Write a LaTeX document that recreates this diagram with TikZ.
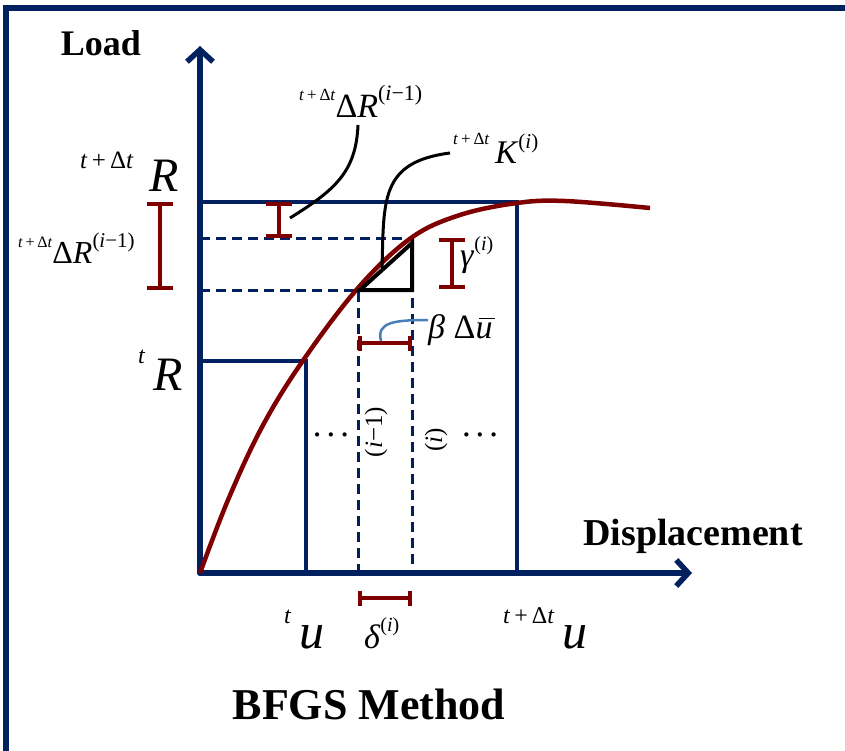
\documentclass[tikz,border=0pt]{standalone}
\usepackage{fontspec}
\setmainfont{Liberation Serif}
\usetikzlibrary{arrows.meta}
\definecolor{navy}{HTML}{002060}
\definecolor{darkred}{HTML}{7F0000}
\definecolor{leadblue}{HTML}{4A7EBB}
\newcommand{\fs}[1]{\fontsize{#1}{#1}\selectfont}
\newcommand{\pre}[3]{\raisebox{#2}{\fs{#1}#3}}
\newcommand{\tdt}{\textit{t}\,+\,Δ\textit{t}}
\newcommand{\threedots}{·\kern5pt·\kern5pt·}
\newcommand{\ubar}{\rlap{\kern0.1em\rule[0.56em]{0.48em}{1.3pt}}\textit{u}}

\begin{document}
\begin{tikzpicture}[x=1pt,y=-1pt,
 frame/.style={draw=navy,line width=6pt},
 axis/.style={draw=navy,line width=5.5pt,line cap=round,-{Straight Barb[length=12pt,width=26pt]}},
 box/.style={draw=navy,line width=3.5pt},
 dashln/.style={draw=navy,line width=3pt,dash pattern=on 10pt off 6pt},
 curve/.style={draw=darkred,line width=4.5pt},
 brk/.style={draw=darkred,line width=4pt,{Bar[width=26pt]}-{Bar[width=26pt]}},
 brks/.style={draw=darkred,line width=4pt,{Bar[width=15pt]}-{Bar[width=15pt]}},
 lead/.style={draw=black,line width=3pt},
 tri/.style={draw=black,line width=4pt,line join=miter},
 lbl/.style={inner sep=0pt,anchor=base west},
 ttl/.style={inner sep=0pt,font=\bfseries}]
 \useasboundingbox (0,0) rectangle (845,750);
 % frame and axes
 \draw[frame] (6,753) -- (6,7.5) -- (848,7.5);
 \coordinate (O) at (200,573);
 \coordinate (ytip) at (200,46);
 \coordinate (xtip) at (692,573);
 \draw[axis] (O) -- (ytip);
 \draw[axis] (O) -- (xtip);
 \node[ttl,font=\bfseries\fs{36}] (load) at (101,43) {Load};
 \node[ttl,font=\bfseries\fs{38}] (disp) at (693,536) {Displacement};
 \node[ttl,font=\bfseries\fs{44}] (title) at (369,704) {BFGS Method};
 % load levels and iterations
 \draw[box] (200,202) -- (517,202) -- (517,573);
 \draw[box] (200,361) -- (306,361) -- (306,573);
 \draw[dashln] (200,238) -- (412,238) -- (412,573);
 \draw[dashln] (200,290) -- (358,290) -- (358,573);
 \draw[curve] plot[smooth,tension=0.6] coordinates {(200,573) (228,500) (262,427) (302,362) (358,288) (411,238) (460,215) (517,203) (565,201) (650,208)};
 \draw[tri] (360,290) -- (412,290) -- (412,243) -- cycle;
 % brackets
 \draw[brk] (160,202) -- (160,290);
 \draw[brk] (279,202) -- (279,238);
 \draw[brk] (452,238) -- (452,289);
 \draw[brks] (358,343) -- (412,343);
 \draw[brks] (358,598) -- (412,598);
 % labels
 \node[lbl,font=\fs{48}] (Rnew) at (80,191) {\pre{25}{0.47em}{\tdt}\,\,\textit{R}};
 \node[lbl,font=\fs{48}] (Rold) at (138,390) {\pre{24}{0.55em}{\textit{t}}\,\textit{R}};
 \node[lbl,font=\fs{32}] (dRleft) at (18,263) {\pre{16}{0.5em}{\tdt}Δ\textit{R}\pre{21}{0.5em}{(\textit{i}−1)}};
 \node[lbl,font=\fs{34}] (dRtop) at (299,117) {\pre{17}{0.5em}{\tdt}Δ\textit{R}\pre{22}{0.5em}{(\textit{i}−1)}};
 \node[lbl,font=\fs{33}] (Klbl) at (453,163) {\pre{17}{0.55em}{\tdt}\,\textit{K}\pre{21}{0.45em}{(\textit{i})}};
 \node[lbl,font=\fs{34}] (gam) at (460,266) {\textit{γ}\pre{20}{0.45em}{(\textit{i})}};
 \node[lbl,font=\fs{34}] (bdu) at (428,338) {\textit{β} Δ\ubar};
 \node[lbl,font=\fs{34}] (del) at (364,648) {\textit{δ}\pre{20}{0.5em}{(\textit{i})}};
 \node[lbl,font=\fs{50}] (uold) at (284,648) {\pre{24}{0.5em}{\textit{t}}\,\textit{u}};
 \node[lbl,font=\fs{50}] (unew) at (503,648) {\pre{24}{0.5em}{\tdt}\,\textit{u}};
 \node[inner sep=0pt,font=\bfseries\fs{26}] (dotl) at (331,438) {\threedots};
 \node[inner sep=0pt,font=\bfseries\fs{26}] (dotr) at (480,438) {\threedots};
 \node[inner sep=0pt,font=\fs{25},rotate=90] (itm) at (376,432) {(\textit{i}−1)};
 \node[inner sep=0pt,font=\fs{25},rotate=90] (itn) at (436,440) {(\textit{i})};
 % leaders
 \coordinate (l1a) at (290,218);
 \coordinate (l1b) at (358,125);
 \coordinate (l2a) at (382,268);
 \coordinate (l2b) at (450,153);
 \coordinate (l3a) at (381,341);
 \coordinate (l3b) at (428,320);
 \draw[lead] (l1a) .. controls (335,190) and (356,172) .. (l1b);
 \draw[lead] (l2a) .. controls (384,200) and (380,162) .. (l2b);
 \draw[lead,draw=leadblue,line width=2.5pt] (l3a) .. controls (376,322) and (395,320) .. (l3b);
\end{tikzpicture}
\end{document}
